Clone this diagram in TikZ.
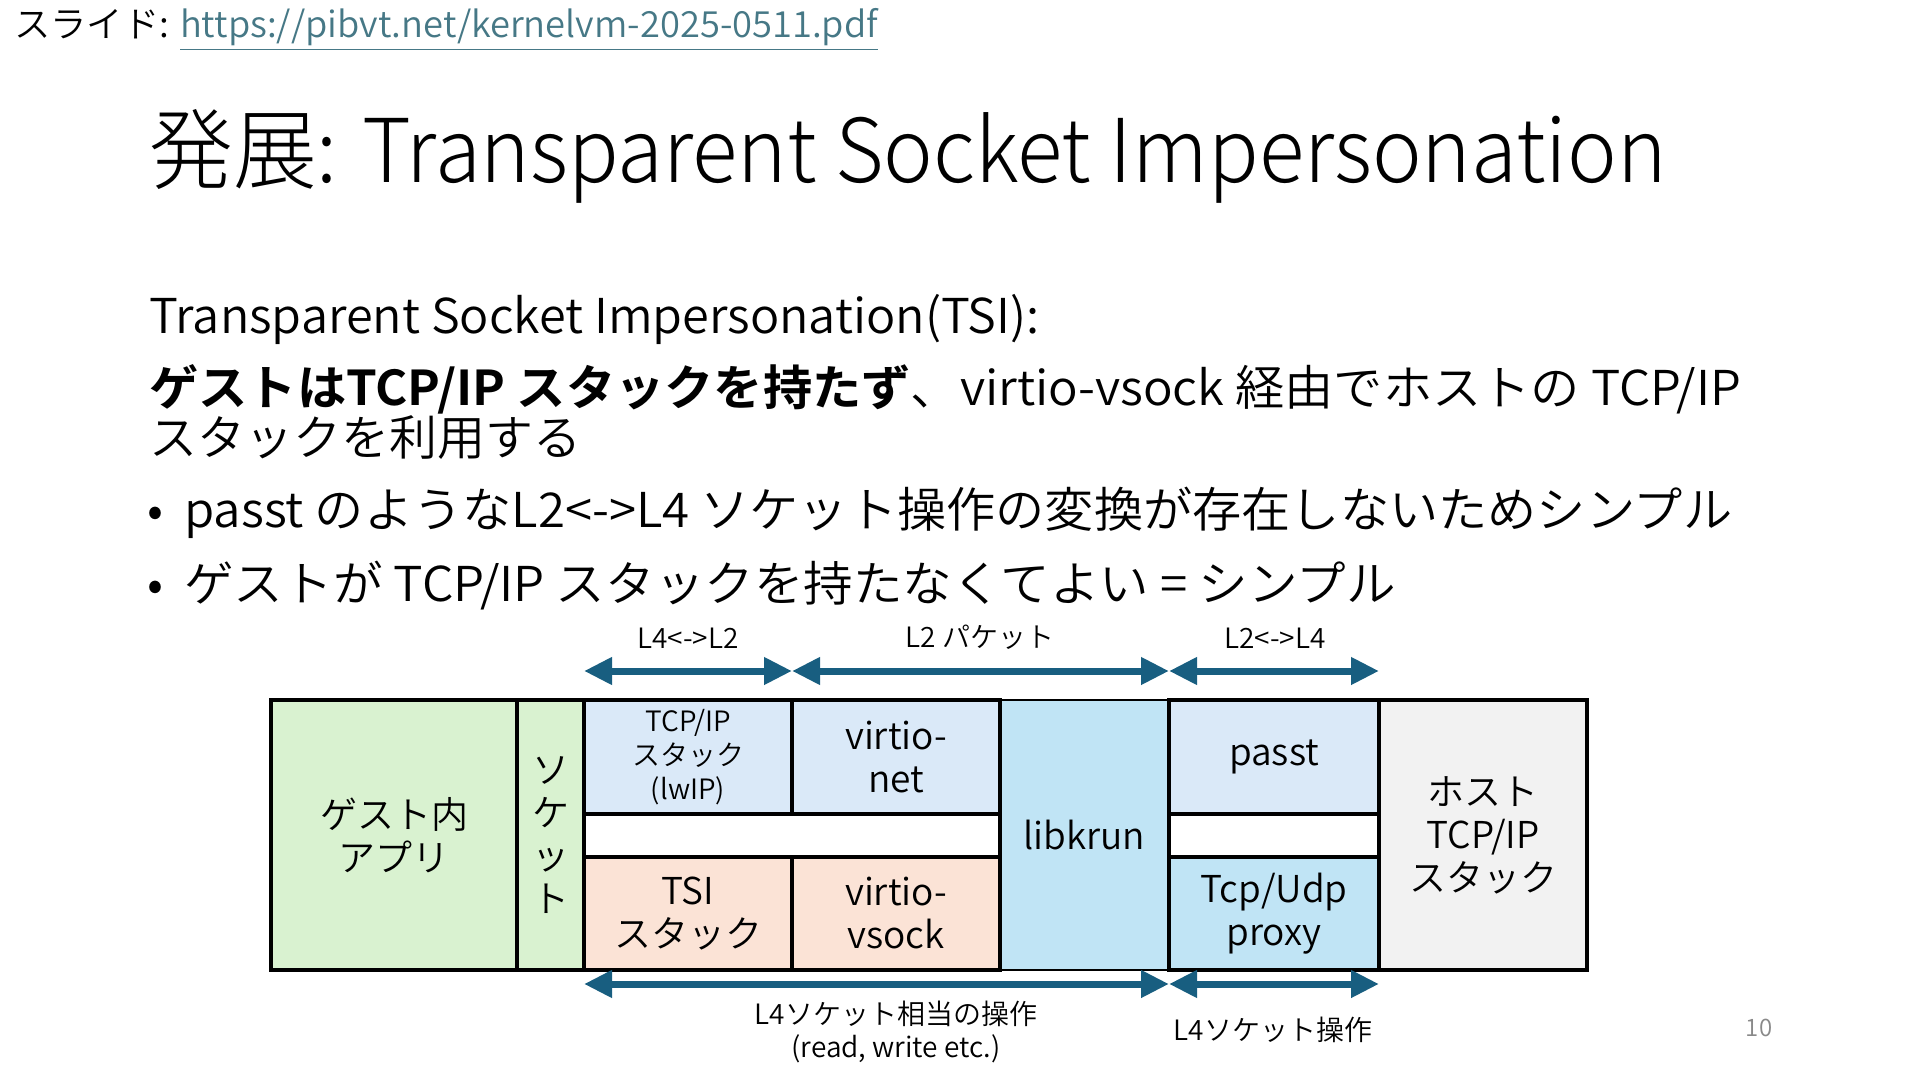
\documentclass[tikz,border=0pt]{standalone}
\usepackage{fontspec}
\setmainfont{Noto Sans CJK JP}[UprightFont={* DemiLight}, BoldFont={* Bold}]
\newfontfamily\titlefont{Noto Sans CJK JP}[UprightFont={* Light}]
\usetikzlibrary{arrows.meta}
\definecolor{arrowc}{RGB}{24,94,128}
\definecolor{appg}{RGB}{217,242,208}
\definecolor{lblue}{RGB}{218,233,248}
\definecolor{peach}{RGB}{251,227,214}
\definecolor{krun}{RGB}{192,228,245}
\definecolor{hostg}{RGB}{242,242,242}
\definecolor{linkc}{RGB}{70,120,134}
\definecolor{pagec}{RGB}{137,137,137}
\tikzset{
  box/.style={draw=black, line width=1.7pt, inner sep=0pt, align=center,
    font=\fontsize{18.5}{21.5}\selectfont, anchor=center},
  thinbox/.style={box, line width=0.6pt},
  dimarrow/.style={{Triangle[length=14pt,width=13pt]}-{Triangle[length=14pt,width=13pt]},
    line width=3.5pt, draw=arrowc},
  lbl/.style={font=\fontsize{14}{16.5}\selectfont, align=center, inner sep=0pt},
  txt/.style={anchor=base west, inner sep=0pt},
  body/.style={txt, font=\fontsize{24}{26}\selectfont},
}
\begin{document}
\begin{tikzpicture}[x=0.5pt,y=-0.5pt]
\useasboundingbox (0,0) rectangle (1920,1080);
\fill[white] (0,0) rectangle (1920,1080);

% header link
\node[txt, font=\fontsize{18}{20}\selectfont, xscale=1.008] (src) at (14,38)
  {スライド: \textcolor{linkc}{\underline{https://pibvt.net/kernelvm-2025-0511.pdf}}};

% title
\node[txt, font=\fontsize{44}{48}\titlefont, xscale=0.952] (title) at (149,183)
  {発展: Transparent Socket Impersonation};

% body text
\node[body, xscale=1.013] (b1) at (149,334)
  {Transparent Socket Impersonation(TSI):};
\node[body, xscale=1.026] (b2) at (149,405)
  {{\bfseries ゲストはTCP/IP スタックを持たず}、virtio-vsock 経由でホストの TCP/IP};
\node[body] (b3) at (149,455)
  {スタックを利用する};
\node[body] (bul1) at (147,527) {•};
\node[body, xscale=1.025] (b4) at (184,527)
  {passt のようなL2<->L4 ソケット操作の変換が存在しないためシンプル};
\node[body] (bul2) at (147,601) {•};
\node[body, xscale=1.033] (b5) at (184,601)
  {ゲストが TCP/IP スタックを持たなくてよい = シンプル};

% diagram boxes
\node[thinbox, fill=krun, minimum width=84.5pt, minimum height=135pt] (libkrun) at (1084.5,835) {libkrun};
\node[box, fill=appg, minimum width=123pt, minimum height=135pt] (app) at (394,835) {ゲスト内\\アプリ};
\node[box, fill=appg, minimum width=33.5pt, minimum height=135pt] (sock) at (550.5,835) {ソ\\ケ\\ッ\\ト};
\node[box, fill=lblue, minimum width=104pt, minimum height=57pt, font=\fontsize{14}{17}\selectfont] (tcpip) at (688,757) {TCP/IP\\スタック\\(lwIP)};
\node[box, fill=lblue, minimum width=104pt, minimum height=57pt] (vnet) at (896,757) {virtio-\\net};
\node[box, fill=white, minimum width=208pt, minimum height=21.5pt] (gap1) at (792,835.5) {};
\node[box, fill=peach, minimum width=104pt, minimum height=56.5pt] (tsi) at (688,913.5) {TSI\\スタック};
\node[box, fill=peach, minimum width=104pt, minimum height=56.5pt] (vsock) at (896,913.5) {virtio-\\vsock};
\node[box, fill=lblue, minimum width=105pt, minimum height=57pt] (passt) at (1274,757) {passt};
\node[box, fill=white, minimum width=105pt, minimum height=21.5pt] (gap2) at (1274,835.5) {};
\node[box, fill=krun, minimum width=105pt, minimum height=56.5pt] (proxy) at (1274,913.5) {Tcp/Udp\\proxy};
\node[box, fill=hostg, minimum width=104pt, minimum height=135pt] (host) at (1483,835) {ホスト\\TCP/IP\\スタック};

% arrow end points
\coordinate (a0) at (584,671);
\coordinate (a1) at (792,671);
\coordinate (a2) at (1169,671);
\coordinate (a3) at (1379,671);
\coordinate (c0) at (584,984);
\coordinate (c1) at (1169,984);
\coordinate (c2) at (1379,984);

\draw[dimarrow] (a0) -- (a1);
\draw[dimarrow] (a1) -- (a2);
\draw[dimarrow] (a2) -- (a3);
\draw[dimarrow] (c0) -- (c1);
\draw[dimarrow] (c1) -- (c2);

% arrow labels
\node[lbl] (l1) at (688,638) {L4<->L2};
\node[lbl] (l2) at (980,637) {L2 パケット};
\node[lbl] (l3) at (1275,638) {L2<->L4};
\node[lbl] (l4) at (896,1032) {L4ソケット相当の操作\\(read, write etc.)};
\node[lbl] (l5) at (1273,1030) {L4ソケット操作};

% page number
\node[font=\fontsize{12}{14}\selectfont, text=pagec, inner sep=0pt] (pg) at (1759,1028) {10};
\end{tikzpicture}
\end{document}
